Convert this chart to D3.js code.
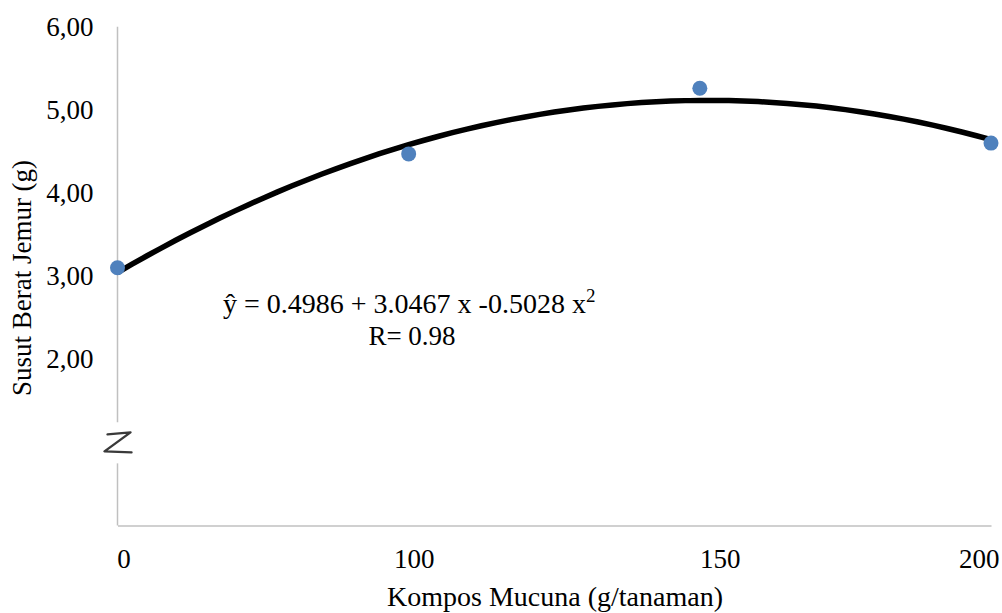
<!DOCTYPE html>
<html>
<head>
<meta charset="utf-8">
<script src="https://cdn.jsdelivr.net/npm/d3@7"></script>
<style>
  html, body { margin: 0; padding: 0; background: #fff; }
  svg { display: block; font-family: "Liberation Serif", "Times New Roman", serif; }
</style>
</head>
<body>
<svg class="scatter-chart"></svg>
<script>
const categories = ['0', '100', '150', '200'];
const positions = [1, 2, 3, 4];
const values = [3.10, 4.47, 5.26, 4.60];
const yTicks = [2, 3, 4, 5, 6];
const coefficients = [0.4986, 3.0467, -0.5028];   // from the equation shown on the chart
const breakValue = 1;

drawChart();

function drawChart() {
  const svgWidth = 1002, svgHeight = 613;
  const left = 117.5, right = 991, top = 26.7, bottom = 525.5;
  const serif = '"Liberation Serif", "Times New Roman", serif';
  const tickNudge = [6, 5, 20, 0];

  const svg = d3.select('svg.scatter-chart')
    .attr('width', svgWidth)
    .attr('height', svgHeight);

  svg.append('rect')
    .attr('width', svgWidth)
    .attr('height', svgHeight)
    .attr('fill', '#fff');

  const x = d3.scaleLinear()
    .domain([1, 4])
    .range([left, right]);

  const xCat = d3.scalePoint()
    .domain(categories)
    .range([left, right]);

  const y = d3.scaleLinear()
    .domain([0, 6])
    .range([bottom, top]);

  const comma = d3.formatLocale({ decimal: ',', thousands: '.', grouping: [3], currency: ['', ''] });

  // y axis labels
  const yAxis = svg.append('g')
    .attr('transform', `translate(${left}, 0)`)
    .call(d3.axisLeft(y).tickValues(yTicks).tickSize(0).tickPadding(24).tickFormat(comma.format('.2f')));
  yAxis.attr('font-family', serif);
  yAxis.select('.domain').remove();
  yAxis.selectAll('text')
    .attr('font-size', 27)
    .attr('fill', '#000');

  // y axis line with a break
  const gapTop = y(breakValue) - 20, gapBottom = y(breakValue) + 21;
  svg.append('line')
    .attr('x1', left).attr('x2', left)
    .attr('y1', y(6)).attr('y2', gapTop)
    .attr('stroke', '#c0c0c0').attr('stroke-width', 1.5);
  svg.append('line')
    .attr('x1', left).attr('x2', left)
    .attr('y1', gapBottom).attr('y2', bottom)
    .attr('stroke', '#c0c0c0').attr('stroke-width', 1.5);

  const bx = x(1), by = y(breakValue);
  svg.append('path')
    .attr('d', `M${bx - 10},${by - 8} L${bx + 13},${by - 10} L${bx - 13},${by + 9} L${bx + 14},${by + 10}`)
    .attr('fill', 'none')
    .attr('stroke', '#3a3a3a')
    .attr('stroke-width', 2.4)
    .attr('stroke-linejoin', 'round')
    .attr('stroke-linecap', 'round');

  // x axis
  const xAxis = svg.append('g')
    .attr('transform', `translate(0, ${bottom})`)
    .call(d3.axisBottom(xCat).tickSize(0).tickPadding(23));
  xAxis.attr('font-family', serif);
  xAxis.select('.domain')
    .attr('stroke', '#c0c0c0')
    .attr('stroke-width', 1.5);
  xAxis.selectAll('text')
    .attr('font-size', 27)
    .attr('fill', '#000')
    .attr('x', (d, i) => tickNudge[i]);
  xAxis.selectAll('.tick')
    .filter(d => d === categories[categories.length - 1])
    .select('text')
    .attr('text-anchor', 'end')
    .attr('x', 8);

  // axis titles
  svg.append('text')
    .attr('x', 555)
    .attr('y', 606)
    .attr('text-anchor', 'middle')
    .attr('font-size', 28)
    .text('Kompos Mucuna (g/tanaman)');

  svg.append('text')
    .attr('transform', 'translate(31, 278) rotate(-90)')
    .attr('text-anchor', 'middle')
    .attr('font-size', 27)
    .text('Susut Berat Jemur (g)');

  // polynomial trend line
  const curve = d3.range(1, 4.0001, 0.05).map(t => ({
    t: t,
    v: coefficients[0] + coefficients[1] * t + coefficients[2] * t * t
  }));
  const line = d3.line()
    .x(d => x(d.t))
    .y(d => y(d.v))
    .curve(d3.curveMonotoneX);

  svg.append('path')
    .datum(curve)
    .attr('fill', 'none')
    .attr('stroke', '#000')
    .attr('stroke-width', 5.5)
    .attr('stroke-linejoin', 'round')
    .attr('d', line);

  // observed points
  svg.selectAll('circle.dot')
    .data(values)
    .enter()
    .append('circle')
    .attr('class', 'dot')
    .attr('cx', (d, i) => x(positions[i]))
    .attr('cy', d => y(d))
    .attr('r', 7.5)
    .attr('fill', '#4f81bd');

  // equation
  const eq = svg.append('text')
    .attr('x', 223)
    .attr('y', 313)
    .attr('font-size', 28);
  eq.append('tspan').text(`ŷ = ${coefficients[0]} + ${coefficients[1]} x -${Math.abs(coefficients[2])} x`);
  eq.append('tspan').attr('dy', -11).attr('font-size', 19).text('2');

  svg.append('text')
    .attr('x', 412)
    .attr('y', 345)
    .attr('text-anchor', 'middle')
    .attr('font-size', 27)
    .text('R= 0.98');
}
</script>
</body>
</html>
